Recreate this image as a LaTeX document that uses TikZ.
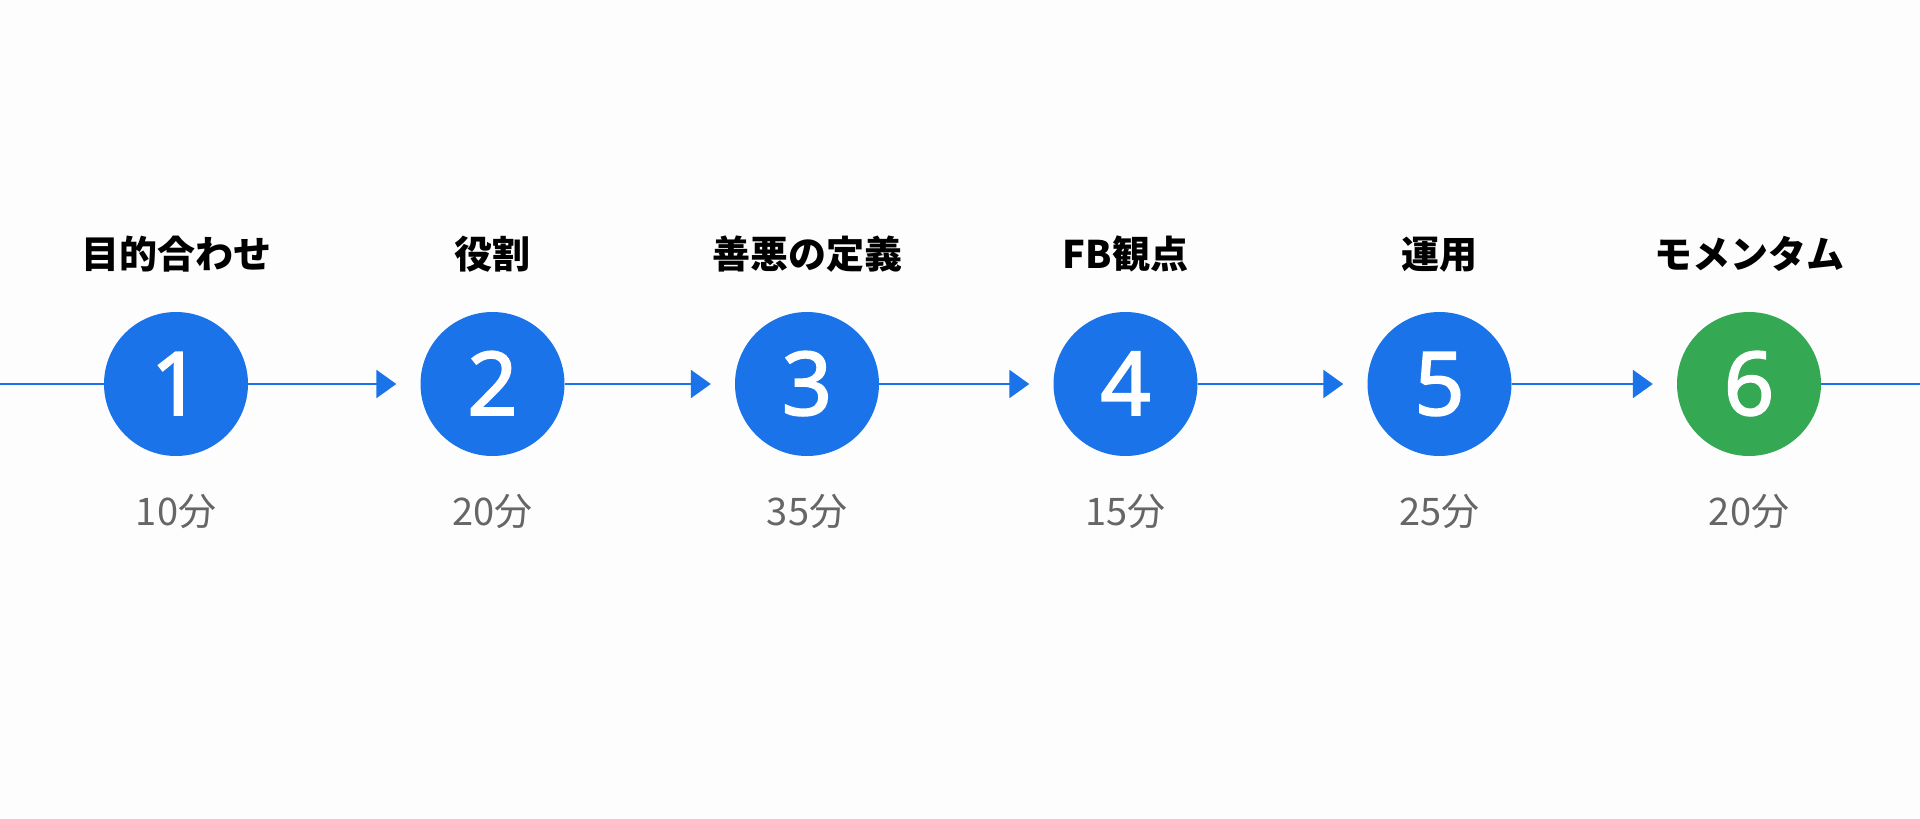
\documentclass[tikz,border=0pt]{standalone}
\usepackage{fontspec}
\newfontfamily\jp{Noto Sans CJK JP}
\newfontfamily\num[FakeBold=2]{Noto Sans}
\usetikzlibrary{arrows.meta}
\definecolor{gblue}{HTML}{1A73E8}
\definecolor{ggreen}{HTML}{34A853}
\definecolor{ggray}{HTML}{666666}
\definecolor{bg}{HTML}{FDFDFD}
\tikzset{
  stepcircle/.style={circle, fill=gblue, minimum size=144pt, inner sep=0pt},
  stepnum/.style={text=white, anchor=base, font=\num\bfseries\fontsize{88}{88}\selectfont},
  steptitle/.style={anchor=base, font=\jp\bfseries\fontsize{38}{38}\selectfont, text=black},
  steptime/.style={anchor=base, font=\jp\fontsize{38}{38}\selectfont, text=ggray},
  flow/.style={draw=gblue, line width=2.5pt},
  flowarrow/.style={flow, -{Triangle[length=20pt,width=28pt]}, shorten >=24pt}
}
\begin{document}
\begin{tikzpicture}[x=1pt,y=-1pt]
\fill[bg] (0,0) rectangle (1920,819);
\useasboundingbox (0,0) rectangle (1920,819);
\coordinate (L) at (0,384);
\coordinate (R) at (1920,384);
\foreach \i/\x/\t/\m/\c in {1/176/目的合わせ/10分/gblue, 2/492.5/役割/20分/gblue, 3/807/善悪の定義/35分/gblue, 4/1125.5/FB観点/15分/gblue, 5/1439.5/運用/25分/gblue, 6/1749/モメンタム/20分/ggreen}{
  \node[stepcircle, fill=\c] (c\i) at (\x,384) {};
  \node[stepnum] (n\i) at (\x,415) {\i};
  \node[steptitle] (t\i) at (\x,268) {\t};
  \node[steptime] (m\i) at (\x,525) {\m};
}
\draw[flow] (L) -- (c1);
\foreach \a/\b in {1/2,2/3,3/4,4/5,5/6}{
  \draw[flowarrow] (c\a.east) -- (c\b.west);
}
\draw[flow] (c6) -- (R);
\end{tikzpicture}
\end{document}
